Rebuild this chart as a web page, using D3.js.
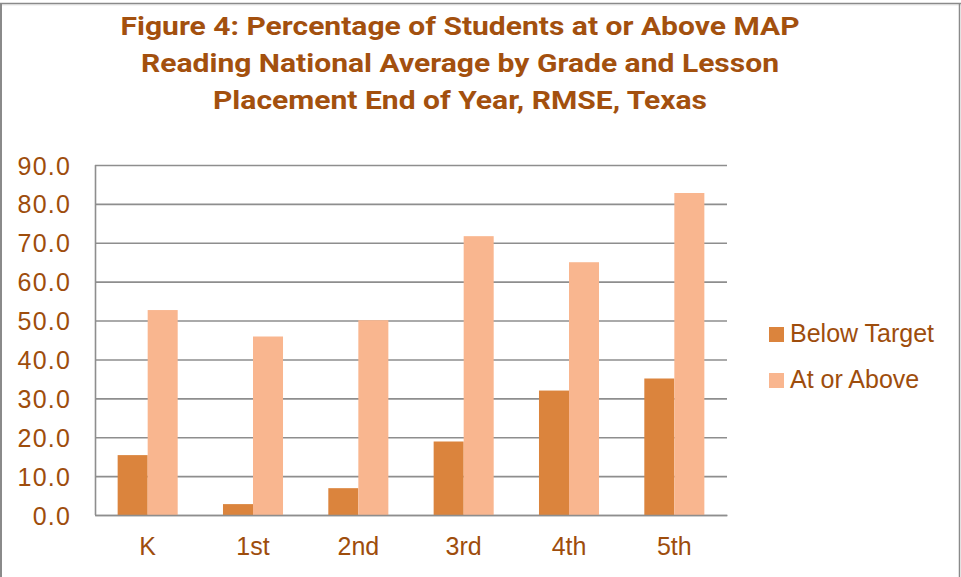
<!DOCTYPE html>
<html>
<head>
<meta charset="utf-8">
<script src="https://cdn.jsdelivr.net/npm/d3@7"></script>
<style>
  html, body { margin: 0; padding: 0; background: #fff; }
  svg { display: block; }
</style>
</head>
<body>
<svg id="chart" width="961" height="577"></svg>
<script>
const categories = ["K", "1st", "2nd", "3rd", "4th", "5th"];
const seriesNames = ["Below Target", "At or Above"];
const belowTarget = [15.4, 2.8, 6.9, 18.9, 32.0, 35.1];
const atOrAbove = [52.7, 45.9, 50.1, 71.7, 65.0, 82.8];
const yTicks = [0, 10, 20, 30, 40, 50, 60, 70, 80, 90];
const titleLines = [
  "Figure 4: Percentage of Students at or Above MAP",
  "Reading National Average by Grade and Lesson",
  "Placement End of Year, RMSE, Texas"
];
const titleWidths = [679, 638, 494];

const colors = ["#DB843D", "#F9B68F"];
const textColor = "#9E4D0C";
const gridColor = "#8e8e8e";

const svg = d3.select("#chart");
const W = 961, H = 577;
const m = { left: 95, right: 234, top: 165, bottom: 62 };

svg.append("rect").attr("x", 0).attr("y", 0).attr("width", W).attr("height", H).attr("fill", "#fff");
// outer border
svg.append("line").attr("x1", 0).attr("x2", W).attr("y1", 3.5).attr("y2", 3.5).attr("stroke", "#8a8a8a").attr("stroke-width", 1.5);
svg.append("line").attr("x1", 0).attr("x2", W).attr("y1", 4.8).attr("y2", 4.8).attr("stroke", "#d8d8d8").attr("stroke-width", 1);
svg.append("line").attr("x1", 1).attr("x2", 1).attr("y1", 3).attr("y2", H).attr("stroke", "#8a8a8a").attr("stroke-width", 2);
svg.append("line").attr("x1", 959.5).attr("x2", 959.5).attr("y1", 3).attr("y2", H).attr("stroke", "#8a8a8a").attr("stroke-width", 1.5);

const x = d3.scaleBand().domain(categories).range([m.left, W - m.right]).paddingInner(0.43).paddingOuter(0.215);
const xs = d3.scaleBand().domain(seriesNames).range([0, x.bandwidth()]);
const y = d3.scaleLinear().domain([0, 90]).range([H - m.bottom, m.top]);

// title
const title = svg.append("g");
titleLines.forEach((t, i) => {
  title.append("text")
    .attr("x", 460).attr("y", 35 + i * 37)
    .attr("text-anchor", "middle")
    .attr("font-family", "Roboto, 'Liberation Sans', sans-serif")
    .attr("font-weight", 700)
    .attr("font-size", 26.5)
    .attr("textLength", titleWidths[i])
    .attr("lengthAdjust", "spacingAndGlyphs")
    .attr("fill", "#A3500E")
    .text(t);
});

// gridlines
const yAxis = d3.axisLeft(y).tickValues(yTicks).tickSize(-(W - m.right - m.left)).tickFormat(d3.format(".1f")).tickPadding(24);
const gy = svg.append("g").attr("transform", `translate(${m.left},0)`).call(yAxis);
gy.select(".domain").remove();
gy.selectAll(".tick line").attr("stroke", gridColor).attr("stroke-width", 1.6);
gy.selectAll(".tick text")
  .attr("fill", textColor)
  .attr("font-family", "'Liberation Sans', Arial, sans-serif")
  .attr("font-size", 25)
  .attr("letter-spacing", 1.2)
  .attr("dy", "0.36em");

// left axis line
svg.append("line").attr("x1", m.left + 0.5).attr("x2", m.left + 0.5).attr("y1", y(90)).attr("y2", y(0))
  .attr("stroke", gridColor).attr("stroke-width", 1.6);

// bars
const data = categories.map((c, i) => ({ c, vals: [belowTarget[i], atOrAbove[i]] }));
const groups = svg.append("g").selectAll("g").data(data).join("g")
  .attr("transform", d => `translate(${x(d.c)},0)`);
groups.selectAll("rect").data(d => d.vals.map((v, j) => ({ v, s: seriesNames[j], j })))
  .join("rect")
  .attr("x", d => xs(d.s))
  .attr("width", xs.bandwidth())
  .attr("y", d => y(d.v))
  .attr("height", d => y(0) - y(d.v))
  .attr("fill", d => colors[d.j]);

// x axis
const xAxis = d3.axisBottom(x).tickSize(0).tickPadding(22);
const gx = svg.append("g").attr("transform", `translate(0,${y(0)})`).call(xAxis);
gx.select(".domain").attr("stroke", gridColor).attr("stroke-width", 1.6);
gx.selectAll(".tick text")
  .attr("fill", textColor)
  .attr("font-family", "'Liberation Sans', Arial, sans-serif")
  .attr("font-size", 25);

// legend
const legend = svg.append("g").attr("transform", "translate(769,327)");
seriesNames.forEach((s, i) => {
  const g = legend.append("g").attr("transform", `translate(0,${i * 46})`);
  g.append("rect").attr("x", 0).attr("y", 0).attr("width", 15).attr("height", 15).attr("fill", colors[i]);
  g.append("text").attr("x", 21).attr("y", 15)
    .attr("fill", textColor)
    .attr("font-family", "'Liberation Sans', Arial, sans-serif")
    .attr("font-size", 25)
    .text(s);
});
</script>
</body>
</html>
